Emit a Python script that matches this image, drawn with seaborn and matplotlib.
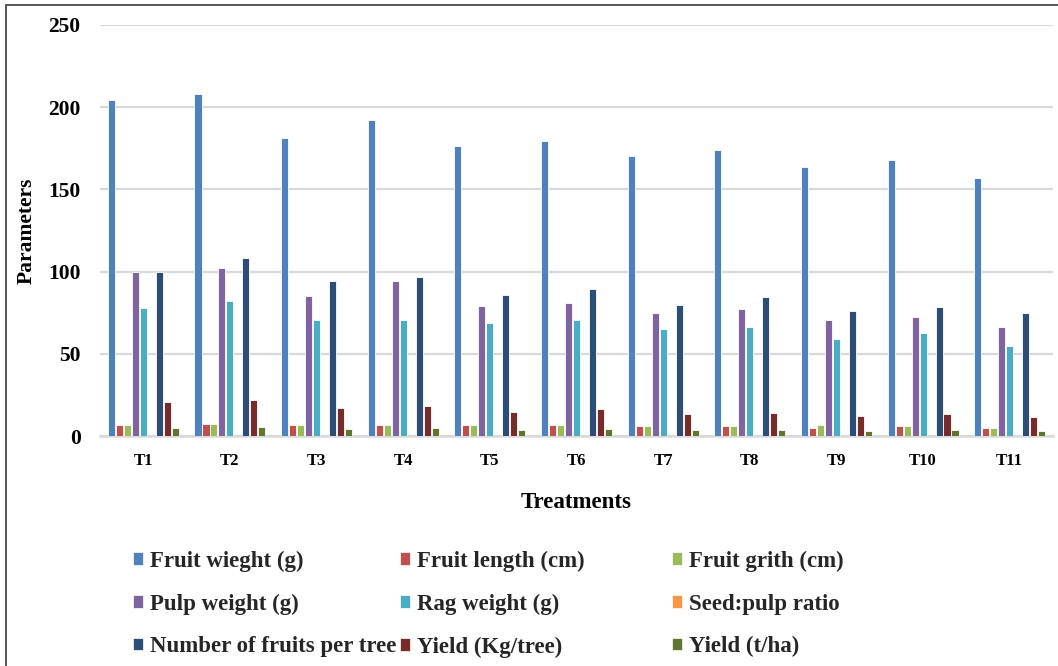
import matplotlib
matplotlib.use("Agg")
import matplotlib.pyplot as plt
import seaborn as sns
import pandas as pd
from matplotlib.patches import Patch, Rectangle

treatments = ["T1", "T2", "T3", "T4", "T5", "T6", "T7", "T8", "T9", "T10", "T11"]
fruit_weight = [204.5, 208, 181.5, 192.5, 176.5, 179.5, 170.5, 174, 163.5, 168, 157]
fruit_length = [6.5, 7.3, 6.5, 6.5, 6.5, 6.5, 5.9, 5.9, 5.1, 5.9, 5.1]
fruit_girth = [6.5, 7.3, 6.5, 6.5, 6.5, 6.5, 5.9, 5.9, 6.5, 5.9, 5.1]
pulp_weight = [100, 102, 85, 94, 79, 80.7, 74.6, 77, 70.4, 72.4, 66.5]
rag_weight = [78, 82, 70.4, 70.4, 68.7, 70.4, 65, 66.5, 59.2, 62.9, 54.6]
seed_pulp = [0.05, 0.05, 0.05, 0.05, 0.05, 0.05, 0.05, 0.05, 0.05, 0.05, 0.05]
fruits_per_tree = [100, 108, 94, 97, 85.8, 89.6, 79.9, 84.4, 76.2, 78.3, 74.6]
yield_kg = [20.5, 22, 16.8, 18.4, 14.6, 16.2, 13.2, 14, 12.4, 13.2, 11.8]
yield_tha = [5.1, 5.7, 4.3, 5.1, 3.6, 4.3, 3.6, 3.6, 2.8, 3.6, 2.8]

series_names = ["Fruit wieght (g)", "Fruit length (cm)", "Fruit grith (cm)",
                "Pulp weight (g)", "Rag weight (g)", "Seed:pulp ratio",
                "Number of fruits per tree", "Yield (Kg/tree)", "Yield (t/ha)"]
series_values = [fruit_weight, fruit_length, fruit_girth, pulp_weight, rag_weight,
                 seed_pulp, fruits_per_tree, yield_kg, yield_tha]
colors = ["#4F81BD", "#C0504D", "#9BBB59", "#8064A2", "#4BACC6", "#F79646",
          "#2C4D75", "#772C2A", "#5F7530"]

rows = []
for name, vals in zip(series_names, series_values):
    for t, v in zip(treatments, vals):
        rows.append({"Treatment": t, "Parameter": name, "Value": v})
df = pd.DataFrame(rows)

sns.set_theme(style="white")
plt.rcParams["font.family"] = ["Liberation Serif", "DejaVu Serif"]
plt.rcParams["font.weight"] = "bold"

fig = plt.figure(figsize=(10.58, 6.66), dpi=100)
ax = fig.add_axes([100 / 1058, 1 - 436 / 666, 953 / 1058, 411 / 666])

sns.barplot(data=df, x="Treatment", y="Value", hue="Parameter",
            order=treatments, hue_order=series_names, palette=colors,
            saturation=1, width=0.83, gap=0.12, edgecolor="white", linewidth=0.6,
            errorbar=None, legend=False, ax=ax, zorder=3)

ax.set_ylim(0, 250)
ax.set_yticks([0, 50, 100, 150, 200, 250])
ax.yaxis.grid(True, color="#D9D9D9", linewidth=1.6, zorder=0)
ax.set_axisbelow(True)
for s in ["left", "right", "top"]:
    ax.spines[s].set_visible(False)
ax.spines["bottom"].set_color("#D9D9D9")
ax.spines["bottom"].set_linewidth(1.8)
ax.tick_params(axis="y", length=0, pad=14, labelsize=15.5)
ax.tick_params(axis="x", length=0, pad=12, labelsize=12)
for lab in ax.get_xticklabels() + ax.get_yticklabels():
    lab.set_fontweight("bold")
    lab.set_color("black")

ax.set_xlabel("Treatments", fontsize=16.5, fontweight="bold", labelpad=17, color="black")
ax.set_ylabel("Parameters", fontsize=15.5, fontweight="bold", labelpad=8, color="black")

# legends: Excel-style row-wise filling in three equal columns
col_x = [133, 400, 672]
for c in range(3):
    idx = [c, c + 3, c + 6]
    handles = [Patch(facecolor=colors[i], edgecolor="white", linewidth=0.5) for i in idx]
    labels = [series_names[i] for i in idx]
    fig.legend(handles, labels, loc="center left",
               bbox_to_anchor=(col_x[c] / 1058, 1 - 604 / 666),
               frameon=False, borderpad=0, borderaxespad=0,
               handlelength=0.45, handleheight=0.45, handletextpad=0.3,
               labelspacing=0.95, prop={"family": "Liberation Serif",
                                        "weight": "bold", "size": 16.5})

# outer border
fig.patches.append(Rectangle((6 / 1058, -0.05), 1.2, 1 - 4.5 / 666 + 0.05,
                             transform=fig.transFigure, fill=False,
                             edgecolor="#4a4a4a", linewidth=1.3))

fig.savefig("out.png", dpi=100)
